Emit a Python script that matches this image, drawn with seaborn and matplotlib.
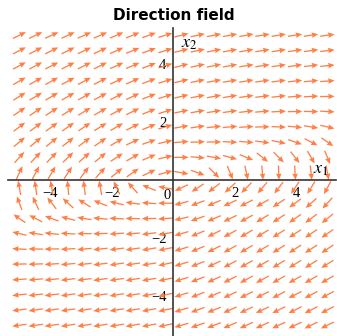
import numpy as np
import pandas as pd
import seaborn as sns
import matplotlib
matplotlib.use("Agg")
import matplotlib.pyplot as plt

# grid of the direction field (20 x 20)
x1_vals = [-5.0, -4.47, -3.95, -3.42, -2.89, -2.37, -1.84, -1.32, -0.79, -0.26,
           0.26, 0.79, 1.32, 1.84, 2.37, 2.89, 3.42, 3.95, 4.47, 5.0]
x2_vals = [5.0, 4.47, 3.95, 3.42, 2.89, 2.37, 1.84, 1.32, 0.79, 0.26,
           -0.26, -0.79, -1.32, -1.84, -2.37, -2.89, -3.42, -3.95, -4.47, -5.0]

# arrow direction in degrees, one list per row (top to bottom)
ang_p500 = [26, 26, 25, 25, 24, 24, 23, 22, 20, 17, 14, 12, 11, 10, 10, 9, 9, 8, 8, 8]
ang_p447 = [27, 27, 26, 26, 25, 25, 24, 22, 20, 17, 14, 12, 11, 10, 10, 9, 9, 8, 8, 7]
ang_p395 = [28, 28, 27, 27, 26, 26, 24, 23, 21, 17, 14, 12, 11, 10, 9, 9, 8, 8, 7, 6]
ang_p342 = [30, 29, 29, 28, 28, 27, 25, 24, 21, 17, 13, 11, 10, 9, 9, 8, 7, 6, 5, 4]
ang_p289 = [32, 31, 31, 30, 29, 28, 27, 25, 21, 17, 13, 11, 10, 9, 8, 7, 6, 5, 3, 1]
ang_p237 = [34, 34, 33, 32, 31, 30, 28, 26, 22, 17, 12, 10, 9, 8, 7, 5, 3, 1, -1, -3]
ang_p184 = [37, 37, 36, 35, 34, 32, 30, 27, 22, 16, 10, 8, 6, 5, 3, 1, -2, -5, -9, -13]
ang_p132 = [40, 40, 39, 38, 37, 35, 30, 25, 19, 13, 5, 2, 0, -3, -5, -8, -12, -19, -27, -35]
ang_p079 = [48, 47, 46, 44, 42, 40, 33, 30, 23, 13, 0, -5, -10, -15, -22, -38, -45, -52, -60, -68]
ang_p026 = [65, 62, 60, 57, 53, 48, 40, 35, 25, 15, -10, -20, -45, -68, -78, -85, -88, -87, -84, -80]
ang_m026 = [100, 98, 100, 95, 97, 100, 115, 132, 158, 170, 205, 213, 218, 223, 226, 230, 233, 236, 239, 242]
ang_m079 = [110, 115, 128, 138, 148, 158, 167, 172, 176, 180, 195, 200, 203, 205, 207, 210, 213, 216, 222, 228]
ang_m132 = [145, 153, 160, 166, 171, 175, 177, 179, 181, 184, 193, 199, 203, 206, 208, 211, 213, 215, 217, 219]
ang_m184 = [167, 171, 174, 177, 180, 182, 184, 185, 187, 190, 196, 202, 206, 208, 210, 211, 212, 213, 214, 215]
ang_m237 = [177, 179, 181, 183, 185, 186, 187, 188, 189, 191, 197, 202, 206, 209, 210, 211, 212, 213, 213, 214]
ang_m289 = [181, 182, 184, 185, 186, 187, 188, 188, 189, 192, 197, 201, 205, 208, 209, 210, 211, 211, 212, 212]
ang_m342 = [184, 185, 186, 187, 187, 188, 188, 189, 189, 192, 197, 201, 204, 207, 208, 208, 209, 209, 210, 210]
ang_m395 = [186, 187, 187, 188, 188, 188, 189, 189, 190, 192, 197, 201, 203, 205, 206, 206, 207, 207, 208, 208]
ang_m447 = [187, 188, 188, 188, 189, 189, 189, 189, 190, 192, 197, 200, 202, 204, 205, 205, 206, 206, 207, 207]
ang_m500 = [188, 188, 188, 189, 189, 189, 189, 190, 190, 192, 196, 199, 201, 203, 204, 204, 205, 205, 206, 206]

rows = [ang_p500, ang_p447, ang_p395, ang_p342, ang_p289, ang_p237, ang_p184, ang_p132,
        ang_p079, ang_p026, ang_m026, ang_m079, ang_m132, ang_m184, ang_m237, ang_m289,
        ang_m342, ang_m395, ang_m447, ang_m500]

recs = []
for yv, row in zip(x2_vals, rows):
    for xv, a in zip(x1_vals, row):
        recs.append((xv, yv, a))
df = pd.DataFrame(recs, columns=["x1", "x2", "angle"])
df["u"] = np.cos(np.radians(df["angle"]))
df["v"] = np.sin(np.radians(df["angle"]))

sns.set_style("white")
plt.rcParams["mathtext.fontset"] = "stix"

fig = plt.figure(figsize=(3.37, 3.36), dpi=100)
ax = fig.add_axes([8 / 337, 0, 328 / 337, 308 / 336])
ax.set_xlim(-5.37, 5.28)
ax.set_ylim(-5.37, 5.25)

ax.quiver(df["x1"], df["x2"], df["u"], df["v"], color="#ff7f45",
          angles="uv", pivot="middle", scale_units="inches", scale=1 / 0.145,
          units="inches", width=0.013, headwidth=4.3, headlength=5,
          headaxislength=4.5, zorder=1)

# axes through the origin
for s in ["top", "right"]:
    ax.spines[s].set_visible(False)
ax.spines["left"].set_position(("data", 0))
ax.spines["bottom"].set_position(("data", 0))
for s in ["left", "bottom"]:
    ax.spines[s].set_color("#333333")
    ax.spines[s].set_linewidth(1.2)
    ax.spines[s].set_zorder(3)

ax.set_xticks([-4, -2, 2, 4])
ax.set_yticks([-4, -2, 2, 4])
ax.set_xticks([-5, -3, -1, 1, 3, 5], minor=True)
ax.set_yticks([-5, -3, -1, 1, 3, 5], minor=True)
ax.set_xticklabels(["\u22124", "\u22122", "2", "4"])
ax.set_yticklabels(["\u22124", "\u22122", "2", "4"])
ax.tick_params(which="both", direction="out", length=3, width=0.8, color="#333333",
               labelsize=10.5, labelcolor="black", pad=2)
for lab in ax.get_xticklabels() + ax.get_yticklabels():
    lab.set_fontfamily("Liberation Serif")
ax.text(-0.08, -0.3, "0", ha="right", va="top", fontsize=10.5, color="black",
        fontfamily="Liberation Serif")

ax.text(4.52, 0.4, r"$x_1$", fontsize=13, ha="left", va="center", color="black")
ax.text(0.26, 4.72, r"$x_2$", fontsize=13, ha="left", va="center", color="black")

fig.text(174 / 337, 1 - 15 / 336, "Direction field", ha="center", va="center",
         fontsize=11, fontweight="bold", color="black", fontfamily="DejaVu Sans")

fig.savefig("out.png", dpi=100)
